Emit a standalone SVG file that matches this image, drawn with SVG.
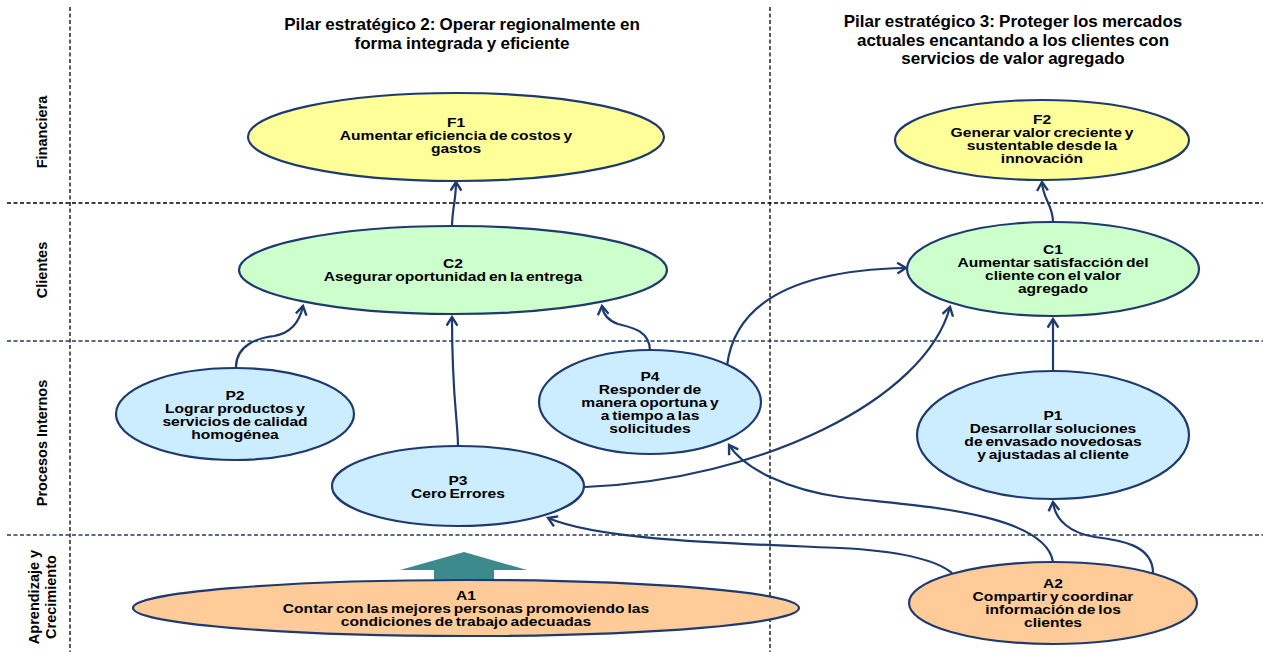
<svg xmlns="http://www.w3.org/2000/svg" width="1263" height="652" viewBox="0 0 1263 652">
<style>
.lane{fill:none;stroke-width:1.3;stroke-dasharray:4,2.5}
.lb{stroke:#000}
.ln{stroke:#1F3A6E}
.node{stroke:#1F3A6E;stroke-width:2.2}
.y{fill:#FFFF99}
.g{fill:#CCFFCC}
.b{fill:#CCECFF}
.o{fill:#FFCC99}
text{font-family:"Liberation Sans",Arial,sans-serif;font-weight:bold;fill:#000}
.t{font-size:13px;text-anchor:middle;word-spacing:-1.2px}
.h{font-size:17px;text-anchor:middle;word-spacing:-0.5px}
.side{font-size:14.5px;text-anchor:middle}
.c{fill:none;stroke:#1F3A6E;stroke-width:2.2;marker-end:url(#ah)}
</style>
<defs>
<marker id="ah" viewBox="0 0 12 12" refX="10" refY="6" markerWidth="13" markerHeight="13" markerUnits="userSpaceOnUse" orient="auto">
<path d="M2,1 L10,6 L2,11" fill="none" stroke="#1F3A6E" stroke-width="2.2"/>
</marker>
</defs>
<rect width="1263" height="652" fill="#fff"/>
<g id="lanes">
<line class="lane lb" x1="70" y1="7" x2="70" y2="652"/>
<line class="lane lb" x1="770" y1="7" x2="770" y2="652"/>
<line class="lane lb" x1="7" y1="203" x2="1263" y2="203"/>
<line class="lane ln" x1="7" y1="341" x2="1263" y2="341"/>
<line class="lane ln" x1="7" y1="535" x2="1263" y2="535"/>
</g>
<g id="lane-labels">
<text class="side" transform="translate(47,132) rotate(-90)">Financiera</text>
<text class="side" transform="translate(47,270) rotate(-90)">Clientes</text>
<text class="side" transform="translate(47,443) rotate(-90)">Procesos Internos</text>
<text class="side" transform="translate(39,597) rotate(-90)">Aprendizaje y</text>
<text class="side" transform="translate(56,597) rotate(-90)">Crecimiento</text>
</g>
<g id="titles">
<text class="h" x="462" y="30">Pilar estratégico 2: Operar regionalmente en</text>
<text class="h" x="462" y="49">forma integrada y eficiente</text>
<text class="h" x="1013" y="27">Pilar estratégico 3: Proteger los mercados</text>
<text class="h" x="1013" y="46">actuales encantando a los clientes con</text>
<text class="h" x="1013" y="64">servicios de valor agregado</text>
</g>
<g id="connectors">
<path class="c" d="M452,227 C452,210 456,200 456,182"/>
<path class="c" d="M236,367 C236,345 258,338 274,336 C292,333 300,320 303,306"/>
<path class="c" d="M458,447 C458,420 452,400 452,317"/>
<path class="c" d="M650,351 C650,330 630,327 618,324 C606,320 603,313 602,306"/>
<path class="c" d="M727,366 C735,300 800,270 906,268"/>
<path class="c" d="M585,487 C760,480 925,400 950,307"/>
<path class="c" d="M1053,371 L1053,319"/>
<path class="c" d="M1053,222 C1053,205 1043,200 1042,182"/>
<path class="c" d="M1153,573 C1153,545 1120,540 1095,537 C1070,533 1055,520 1053,502"/>
<path class="c" d="M1053,562 C1045,510 900,505 840,497 C790,490 745,470 729,445"/>
<path class="c" d="M952,573 C930,555 880,550 840,548 C720,543 600,540 548,518"/>
</g>
<g id="F1"><ellipse class="node y" cx="456" cy="137" rx="208" ry="44"/>
<g transform="translate(456,0) scale(1.2,1)"><text class="t" x="0" y="127">F1</text><text class="t" x="0" y="140">Aumentar eficiencia de costos y</text><text class="t" x="0" y="153">gastos</text></g></g>
<g id="F2"><ellipse class="node y" cx="1042" cy="140" rx="147" ry="40"/>
<g transform="translate(1042,0) scale(1.2,1)"><text class="t" x="0" y="124">F2</text><text class="t" x="0" y="137">Generar valor creciente y</text><text class="t" x="0" y="150">sustentable desde la</text><text class="t" x="0" y="163">innovación</text></g></g>
<g id="C2"><ellipse class="node g" cx="453" cy="270" rx="214" ry="44"/>
<g transform="translate(453,0) scale(1.2,1)"><text class="t" x="0" y="268">C2</text><text class="t" x="0" y="281">Asegurar oportunidad en la entrega</text></g></g>
<g id="C1"><ellipse class="node g" cx="1053" cy="269" rx="146" ry="47"/>
<g transform="translate(1053,0) scale(1.2,1)"><text class="t" x="0" y="254">C1</text><text class="t" x="0" y="267">Aumentar satisfacción del</text><text class="t" x="0" y="280">cliente con el valor</text><text class="t" x="0" y="293">agregado</text></g></g>
<g id="P2"><ellipse class="node b" cx="235" cy="414" rx="119" ry="46"/>
<g transform="translate(235,0) scale(1.2,1)"><text class="t" x="0" y="400">P2</text><text class="t" x="0" y="413">Lograr productos y</text><text class="t" x="0" y="426">servicios de calidad</text><text class="t" x="0" y="439">homogénea</text></g></g>
<g id="P3"><ellipse class="node b" cx="458" cy="486" rx="126" ry="40"/>
<g transform="translate(458,0) scale(1.2,1)"><text class="t" x="0" y="485">P3</text><text class="t" x="0" y="498">Cero Errores</text></g></g>
<g id="P4"><ellipse class="node b" cx="650" cy="402" rx="111" ry="52"/>
<g transform="translate(650,0) scale(1.2,1)"><text class="t" x="0" y="381">P4</text><text class="t" x="0" y="394">Responder de</text><text class="t" x="0" y="407">manera oportuna y</text><text class="t" x="0" y="420">a tiempo a las</text><text class="t" x="0" y="433">solicitudes</text></g></g>
<g id="P1"><ellipse class="node b" cx="1053" cy="435" rx="136" ry="64"/>
<g transform="translate(1053,0) scale(1.2,1)"><text class="t" x="0" y="420">P1</text><text class="t" x="0" y="433">Desarrollar soluciones</text><text class="t" x="0" y="446">de envasado novedosas</text><text class="t" x="0" y="459">y ajustadas al cliente</text></g></g>
<g id="A1-arrow"><polygon points="464,552 527,570 494,570 494,580 434,580 434,570 400,570" fill="#3D8A8C"/></g>
<g id="A1"><ellipse class="node o" cx="466" cy="608" rx="333" ry="28"/>
<g transform="translate(466,0) scale(1.2,1)"><text class="t" x="0" y="600">A1</text><text class="t" x="0" y="613">Contar con las mejores personas promoviendo las</text><text class="t" x="0" y="626">condiciones de trabajo adecuadas</text></g></g>
<g id="A2"><ellipse class="node o" cx="1053" cy="603" rx="144" ry="41"/>
<g transform="translate(1053,0) scale(1.2,1)"><text class="t" x="0" y="588">A2</text><text class="t" x="0" y="601">Compartir y coordinar</text><text class="t" x="0" y="614">información de los</text><text class="t" x="0" y="627">clientes</text></g></g>
</svg>
